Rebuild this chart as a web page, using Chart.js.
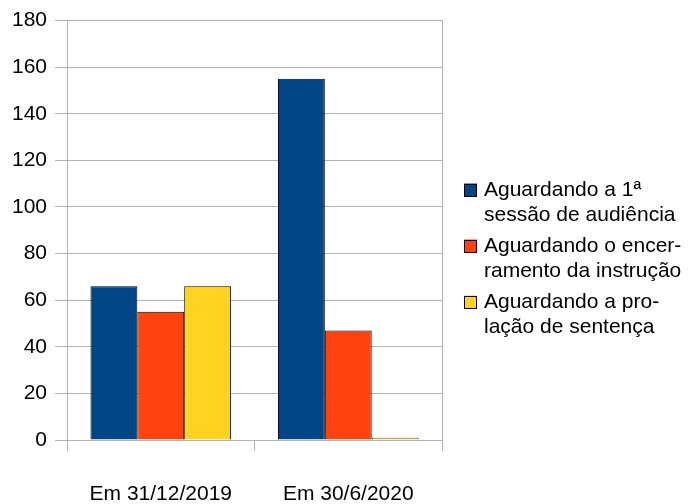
<!DOCTYPE html>
<html>
<head>
<meta charset="utf-8">
<script src="https://cdn.jsdelivr.net/npm/chart.js@4"></script>
<style>
  html, body { margin: 0; padding: 0; background: #fff; }
  #wrap { width: 692px; height: 504px; }
</style>
</head>
<body>
<div id="wrap"><canvas id="chart"></canvas></div>
<script>
// Categories (x axis)
var categories = ['Em 31/12/2019', 'Em 30/6/2020'];

// Series names, split in lines like the legend of the original
var seriesNames = [
    ['Aguardando a 1ª', 'sessão de audiência'],
    ['Aguardando o encer-', 'ramento da instrução'],
    ['Aguardando a pro-', 'lação de sentença']
];

// Values for each series
var aguardandoAudiencia = [66, 155];
var aguardandoEncerramento = [55, 47];
var aguardandoSentenca = [66, 1];

var seriesColors = ['#004586', '#ff420e', '#ffd320'];

// Y axis ticks
var yMin = 0;
var yMax = 180;
var yStep = 20;

var gridColor = '#b3b3b3';
var fontFamily = "'Liberation Sans', Arial, sans-serif";

var seriesValues = [aguardandoAudiencia, aguardandoEncerramento, aguardandoSentenca];

var datasets = seriesNames.map(function (name, i) {
    return {
        label: name.join(' '),
        data: seriesValues[i],
        backgroundColor: seriesColors[i],
        borderColor: '#000000',
        borderWidth: 1,
        categoryPercentage: 0.75,
        barPercentage: 1.0
    };
});

// Legend drawn at the right, two lines per entry, like the original
var sideLegend = {
    id: 'sideLegend',
    afterDraw: function (chart) {
        var c = chart.ctx;
        var boxX = 464;
        var textX = 484;
        var firstY = 190;
        var itemStep = 56;
        var lineStep = 25.5;
        var box = 13;
        c.save();
        c.font = '21px ' + fontFamily;
        c.fillStyle = '#000';
        c.textBaseline = 'middle';
        c.textAlign = 'left';
        chart.data.datasets.forEach(function (ds, i) {
            var y = firstY + itemStep * i;
            c.fillStyle = ds.backgroundColor;
            c.fillRect(boxX, y - box / 2, box, box);
            c.strokeStyle = '#000';
            c.lineWidth = 1;
            c.strokeRect(boxX + 0.5, Math.round(y - box / 2) + 0.5, box - 1, box - 1);
            c.fillStyle = '#000';
            seriesNames[i].forEach(function (line, j) {
                c.fillText(line, textX, y + lineStep * j);
            });
        });
        c.restore();
    }
};

var ctx = document.getElementById('chart').getContext('2d');
var chart = new Chart(ctx, {
    type: 'bar',
    data: {
        labels: categories,
        datasets: datasets
    },
    plugins: [sideLegend],
    options: {
        responsive: true,
        maintainAspectRatio: false,
        animation: false,
        layout: {
            padding: { left: 4, top: 10, right: 234, bottom: 0 }
        },
        scales: {
            x: {
                grid: {
                    offset: true,
                    drawOnChartArea: false,
                    color: gridColor,
                    tickLength: 11
                },
                border: { color: gridColor },
                ticks: {
                    color: '#000',
                    padding: 33,
                    font: { family: fontFamily, size: 21, lineHeight: 1 },
                    maxRotation: 0
                },
                afterFit: function (scale) {
                    scale.height = 64;
                }
            },
            y: {
                min: yMin,
                max: yMax,
                ticks: {
                    stepSize: yStep,
                    color: '#000',
                    padding: 8,
                    font: { family: fontFamily, size: 21 }
                },
                grid: {
                    color: gridColor,
                    tickLength: 12
                },
                border: { color: gridColor }
            },
            yRight: {
                position: 'right',
                min: yMin,
                max: yMax,
                ticks: { display: false },
                grid: { display: false },
                border: { display: true, color: gridColor },
                afterFit: function (scale) {
                    scale.width = 16;
                }
            }
        },
        plugins: {
            legend: { display: false },
            tooltip: { enabled: false }
        }
    }
});
</script>
</body>
</html>
